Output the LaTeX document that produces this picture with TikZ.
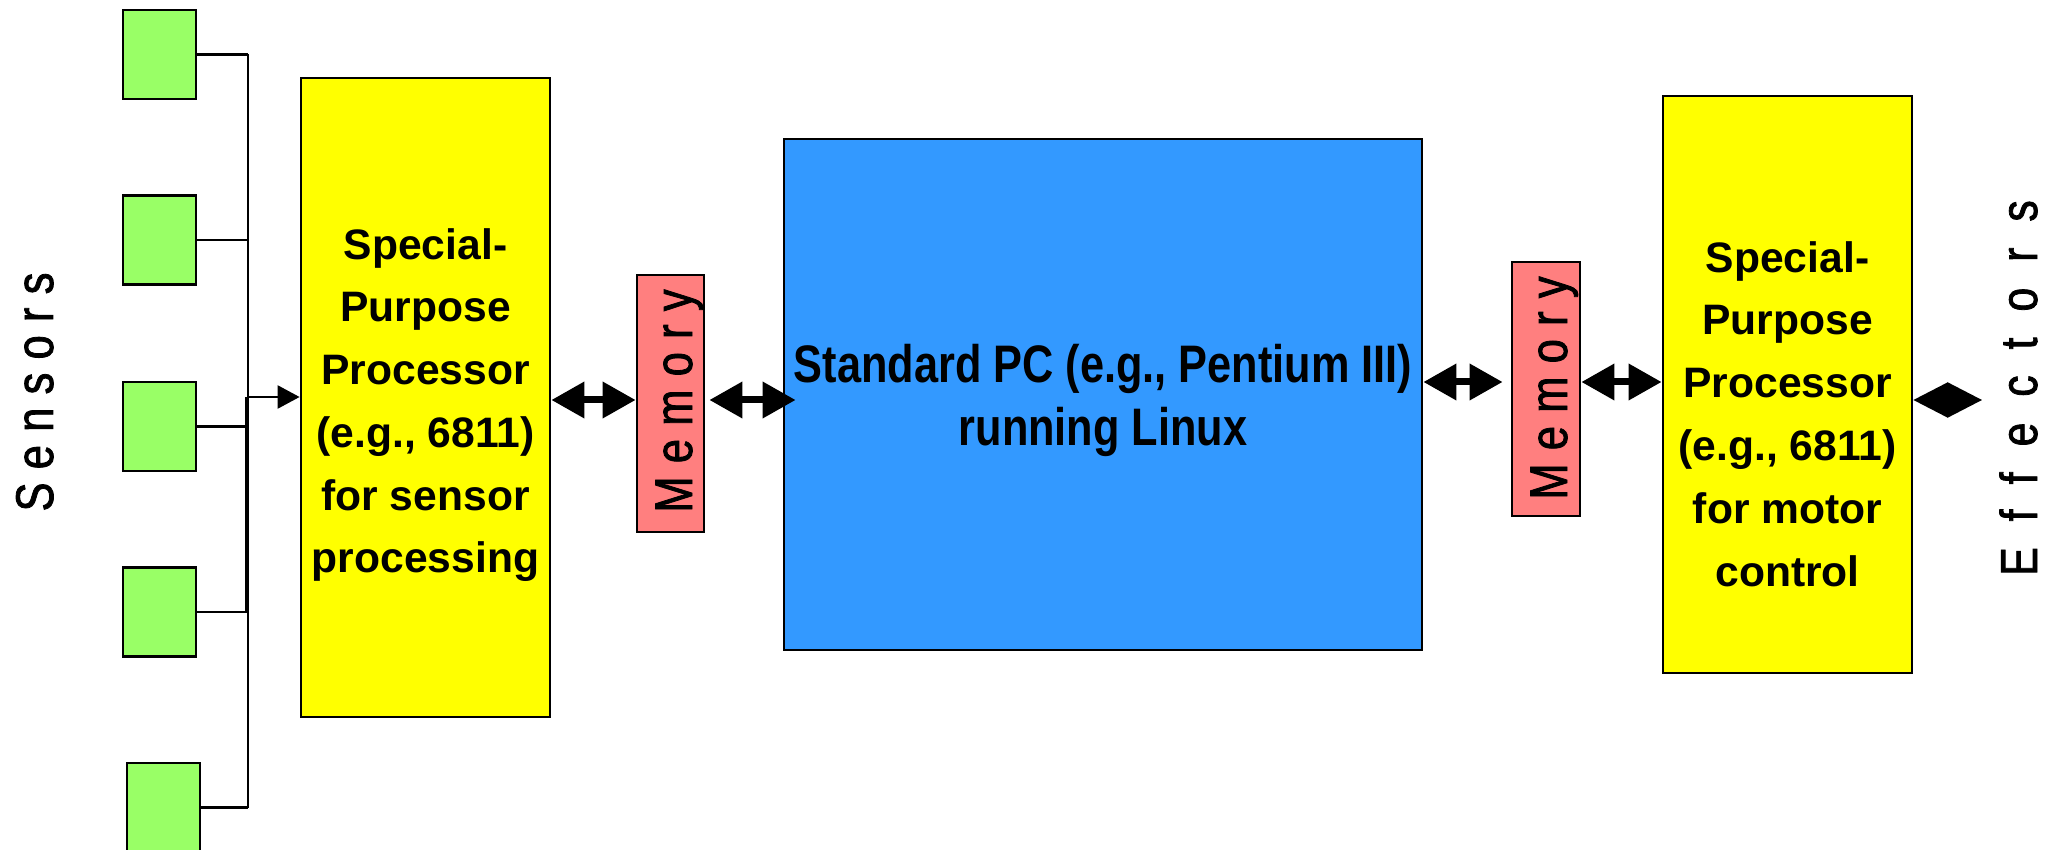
\documentclass[tikz,border=0pt]{standalone}
\usepackage{fontspec}
\setmainfont{Liberation Sans}
\newfontfamily\narrowfont[FakeStretch=0.82]{Liberation Sans}
\newfontfamily\sidefont[FakeStretch=0.82,FakeBold=1.5]{Liberation Sans}
\usetikzlibrary{arrows.meta}

\definecolor{sensorgreen}{HTML}{99FF66}
\definecolor{procyellow}{HTML}{FFFF00}
\definecolor{pcblue}{HTML}{3399FF}
\definecolor{mempink}{HTML}{FF7F7F}

\begin{document}
\begin{tikzpicture}[x=0.5pt,y=-0.5pt,
    sensor/.style={draw,line width=1.3pt,fill=sensorgreen,inner sep=0pt,
      minimum width=36.5pt,minimum height=44.5pt},
    box/.style={draw,line width=1.4pt,inner sep=0pt},
    proctext/.style={align=center,anchor=base,
      font=\bfseries\fontsize{21.3}{31.4}\selectfont},
    sidetext/.style={rotate=90,anchor=base,inner sep=0pt,
      font=\sidefont\fontsize{26.5}{30}\selectfont\addfontfeature{LetterSpace=25}},
    wire/.style={line width=1.2pt},
    sensorarrow/.style={line width=1.2pt,-{Triangle[length=11pt,width=11.5pt]}},
    bigarrow/.style={line width=3.5pt,
      {Triangle[length=16.5pt,width=17.5pt]}-{Triangle[length=16.5pt,width=17.5pt]}},
    diamondarrow/.style={line width=1pt,
      {Triangle[length=17.2pt,width=17.5pt]}-{Triangle[length=17.2pt,width=17.5pt]}}
  ]
  \useasboundingbox (0,0) rectangle (2053,850);

  % sensors
  \node[sensor] (s1) at (159.5,54.5) {};
  \node[sensor] (s2) at (159.5,240) {};
  \node[sensor] (s3) at (159.5,426.5) {};
  \node[sensor] (s4) at (159.5,612) {};
  \node[sensor] (s5) at (163.5,807.5) {};
  \node[sidetext] (sensors) at (53,392) {Sensors};

  % processors and memories
  \node[box,fill=procyellow,minimum width=124.5pt,minimum height=319.5pt] (spp) at (425.5,397.5) {};
  \node[box,fill=mempink,minimum width=33.5pt,minimum height=128.5pt] (mem1) at (670.5,403.5) {};
  \node[box,fill=pcblue,minimum width=319pt,minimum height=255.5pt] (pc) at (1103,394.5) {};
  \node[box,fill=mempink,minimum width=34pt,minimum height=127pt] (mem2) at (1546,389) {};
  \node[box,fill=procyellow,minimum width=124.5pt,minimum height=288.5pt] (mpp) at (1787.5,384.5) {};

  % multi-line texts sit on the baseline of their last line
  \node[proctext] (spptext) at (425.5,573)
    {Special-\\Purpose\\Processor\\(e.g., 6811)\\for sensor\\processing};
  \node[proctext] (mpptext) at (1787.5,586)
    {Special-\\Purpose\\Processor\\(e.g., 6811)\\for motor\\control};
  \node[align=center,anchor=base,font=\narrowfont\bfseries\fontsize{26.4}{31.5}\selectfont]
    (pctext) at (1103,445) {Standard PC (e.g., Pentium III)\\running Linux};
  \node[sidetext] (mem1text) at (692,401) {Memory};
  \node[sidetext] (mem2text) at (1567,388) {Memory};
  \node[sidetext,font=\sidefont\fontsize{26}{30}\selectfont\addfontfeature{LetterSpace=50}]
    (effectors) at (2037,388) {Effectors};

  % sensor bus
  \coordinate (bustop) at (248,54.5);
  \coordinate (busbot) at (248,807.5);
  \coordinate (busout) at (248,397);
  \draw[wire] (bustop) -- (busbot);
  \foreach \s in {s1,s2,s3,s4,s5}
    \draw[wire] (\s.east) -- (\s.east -| bustop);
  \draw[line width=2pt] ([xshift=-0.4pt]busout) -- ([xshift=-0.4pt]s4.east -| bustop);
  \draw[sensorarrow] (busout) -- (busout -| spp.west);

  % data paths
  \coordinate (lrow) at (0,400);
  \coordinate (rrow) at (0,382);
  \coordinate (effend) at (1982,400);
  \draw[bigarrow] (spp.east |- lrow) -- (mem1.west |- lrow);
  \draw[bigarrow,shorten <=2pt,shorten >=-6.5pt] (mem1.east |- lrow) -- (pc.west |- lrow);
  \draw[bigarrow,shorten >=4pt] (pc.east |- rrow) -- (mem2.west |- rrow);
  \draw[bigarrow] (mem2.east |- rrow) -- (mpp.west |- rrow);
  \draw[diamondarrow] (mpp.east |- effend) -- (effend);
\end{tikzpicture}
\end{document}
